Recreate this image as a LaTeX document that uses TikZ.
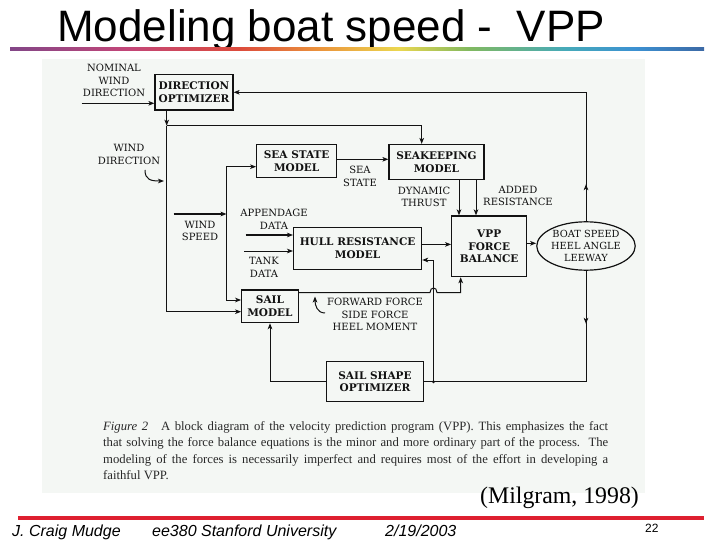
\documentclass[tikz,border=0pt]{standalone}
\usepackage{fontspec}
\setmainfont{Liberation Serif}
\newfontfamily\slidefont{Liberation Sans}
\newfontfamily\diafont{DejaVu Serif}
\usetikzlibrary{positioning, arrows.meta, calc, shapes.geometric, decorations.markings}
\definecolor{figbg}{RGB}{244,247,244}
\definecolor{ink}{RGB}{18,18,18}
\definecolor{captgray}{RGB}{40,40,40}
\definecolor{footred}{RGB}{222,32,48}
\definecolor{rbA}{RGB}{130,70,135}
\definecolor{rbB}{RGB}{195,70,120}
\definecolor{rbC}{RGB}{220,75,60}
\definecolor{rbD}{RGB}{235,150,60}
\definecolor{rbE}{RGB}{235,215,80}
\definecolor{rbF}{RGB}{130,185,95}
\definecolor{rbG}{RGB}{70,170,185}
\definecolor{rbH}{RGB}{60,145,210}
\definecolor{rbI}{RGB}{60,105,165}
\pgfdeclarehorizontalshading{rainbow}{100bp}{color(0bp)=(rbA); color(25bp)=(rbA);
  color(33.5bp)=(rbB); color(41.5bp)=(rbC); color(47.5bp)=(rbD); color(53bp)=(rbE);
  color(58bp)=(rbF); color(65bp)=(rbG); color(70bp)=(rbH); color(75bp)=(rbI); color(100bp)=(rbI)}
\tikzset{
>={Stealth[length=6pt, width=4.6pt, inset=1.6pt]}, % arrow heads of the connectors
block/.style={draw=ink, line width=1.2pt, fill=figbg, inner sep=0pt, align=center, text=ink,
  font=\diafont\bfseries\fontsize{10.5}{12.8}\selectfont}, % boxes of the diagram
lbl/.style={align=center, inner sep=0pt, text=ink, font=\diafont\fontsize{10}{12.6}\selectfont}, % signal names
wire/.style={draw=ink, line width=1pt}, % plain connectors
fatwire/.style={draw=ink, line width=1.8pt}, % external inputs
marrow/.style={postaction={decorate}, decoration={markings, mark=at position #1 with {\arrow{>}}}}, % arrow on the way
}
\begin{document}
\begin{tikzpicture}[x=1pt, y=-1pt]
\useasboundingbox (0,0) rectangle (720,540);
% slide frame
\node[anchor=base west, inner sep=0pt, font=\slidefont\fontsize{44}{44}\selectfont] (title) at (57,42) {Modeling boat speed -\ \ VPP};
\shade[shading=rainbow] (10,47.5) rectangle (704,50.5);
\fill[figbg] (42,59) rectangle (645,493);

% blocks
\node[block, minimum width=78pt, minimum height=35.5pt] (DO) at (194,92.3) {DIRECTION\\OPTIMIZER};
\node[block, minimum width=80pt, minimum height=33pt] (SSM) at (296.7,161) {SEA STATE\\MODEL};
\node[block, minimum width=95pt, minimum height=35pt] (SKM) at (436.5,162) {SEAKEEPING\\MODEL};
\node[block, minimum width=128pt, minimum height=42pt] (HRM) at (357.6,248.4) {HULL RESISTANCE\\MODEL};
\node[block, minimum width=75pt, minimum height=60.7pt] (VPP) at (489.2,246.3) {VPP\\FORCE\\BALANCE};
\node[block, ellipse, font=\diafont\fontsize{9.8}{12}\selectfont, minimum width=93.4pt, minimum height=48.4pt] (boat) at (586,246) {BOAT SPEED\\HEEL ANGLE\\LEEWAY};
\node[block, minimum width=56.6pt, minimum height=32.7pt] (SAIL) at (270,306.3) {SAIL\\MODEL};
\node[block, minimum width=96.6pt, minimum height=40pt] (SSO) at (375,381.7) {SAIL SHAPE\\OPTIMIZER};

% signal names
\node[lbl] (nominal) at (114,80.5) {NOMINAL\\WIND\\DIRECTION};
\node[lbl] (winddir) at (129,154.5) {WIND\\DIRECTION};
\node[lbl] (seastate) at (360,176.5) {SEA\\STATE};
\node[lbl] (dynthrust) at (424,197) {DYNAMIC\\THRUST};
\node[lbl] (addres) at (518,196) {ADDED\\RESISTANCE};
\node[lbl] (windspeed) at (200,231) {WIND\\SPEED};
\node[lbl] (appendage) at (274,219) {APPENDAGE\\DATA};
\node[lbl] (tank) at (264,267.5) {TANK\\DATA};
\node[lbl] (forces) at (375,314.5) {FORWARD FORCE\\SIDE FORCE\\HEEL MOMENT};

% turning points and free ends
\coordinate (nomin) at (81.7,103.3);
\coordinate (wdsplit) at (166.7,125.7);
\coordinate (skx) at (421.7,130);
\coordinate (wsin) at (173.5,214);
\coordinate (wsjoin) at (226.5,214);
\coordinate (ssout) at ($(SSM.east)+(0,-1.7)$);
\coordinate (appin) at (245.7,235);
\coordinate (tankin) at (244,251);
\coordinate (dt) at (459,200);
\coordinate (ar) at (476,200);
\coordinate (hrout) at ($(HRM.east)+(0,-4)$);
\coordinate (vppout) at ($(VPP.east)+(0,-3)$);
\coordinate (sailout) at (298.3,292.5);
\coordinate (hopA) at (430,292.5);
\coordinate (hopB) at (437,292.5);
\coordinate (vppin) at (460.7,292.5);
\coordinate (jct) at (433.5,381.7);
\coordinate (wdhook) at (145,170);
\coordinate (wdhookend) at (164,181);
\coordinate (fhook) at (325,313);
\coordinate (fhookend) at (315,296.5);

% connectors
\draw[wire, ->] (nomin) -- (nomin -| DO.west);
\draw[wire, ->, marrow=37pt] (boat.north) |- (DO.east);
\draw[wire, ->] (DO.south -| wdsplit) -- (wdsplit);
\draw[wire, ->] (wdsplit) -| (SKM.north -| skx);
\draw[wire, ->] (wdsplit) |- ($(SAIL.west)+(0,5.4)$);
\draw[wire, ->] (wdhook) .. controls (145,180) and (151,181) .. (wdhookend);
\draw[fatwire, ->] (wsin) -- (wsjoin);
\draw[wire, ->] (wsjoin) |- ($(SSM.west)+(0,5.7)$);
\draw[wire, ->] (wsjoin) |- ($(SAIL.west)+(0,-6.3)$);
\draw[wire, ->] (ssout) -- (ssout -| SKM.west);
\draw[wire, ->] (SKM.south -| dt) -- (VPP.north -| dt);
\draw[wire, ->] (SKM.south -| ar) -- (VPP.north -| ar);
\draw[fatwire, ->] (appin) -- (appin -| HRM.west);
\draw[wire, ->] (tankin) -- (tankin -| HRM.west);
\draw[wire, ->] (hrout) -- (hrout -| VPP.west);
\draw[wire, ->] (vppout) -- (vppout -| boat.west);
\draw[wire, ->] (sailout) -- (hopA) .. controls (430,286.5) and (437,286.5) .. (hopB) -- (vppin) -- (vppin |- VPP.south);
\draw[wire, marrow=53pt] (boat.south) |- (SSO.east);
\fill[ink] (jct) circle (1.6);
\draw[wire, ->] (jct) |- ($(HRM.east)+(0,11.6)$);
\draw[wire, ->] (SSO.west) -| (SAIL.south);
\draw[wire, ->] (fhook) .. controls (317,313) and (315,305) .. (fhookend);

% caption and source
\node[anchor=north west, text width=505pt, align=justify, inner sep=0pt, text=captgray,
  font=\fontsize{12.7}{16.2}\selectfont] (caption) at (103,421.5)
  {\textit{Figure 2}\quad A block diagram of the velocity prediction program (VPP). This emphasizes the fact\linebreak
   that solving the force balance equations is the minor and more ordinary part of the process.\ \ The\linebreak
   modeling of the forces is necessarily imperfect and requires most of the effort in developing a\linebreak
   faithful VPP.};
\node[anchor=base west, inner sep=0pt, font=\fontsize{23.8}{23.8}\selectfont] (source) at (480,503) {(Milgram, 1998)};

% footer
\fill[footred] (18,515.5) rectangle (704,519.5);
\node[anchor=base west, inner sep=0pt, font=\slidefont\itshape\fontsize{16}{16}\selectfont] (author) at (12,536) {J. Craig Mudge};
\node[anchor=base west, inner sep=0pt, font=\slidefont\itshape\fontsize{16}{16}\selectfont] (course) at (152,536) {ee380 Stanford University};
\node[anchor=base west, inner sep=0pt, font=\slidefont\itshape\fontsize{16}{16}\selectfont] (date) at (385,536) {2/19/2003};
\node[anchor=base west, inner sep=0pt, font=\slidefont\fontsize{12}{12}\selectfont] (pagenum) at (645,532) {22};
\end{tikzpicture}
\end{document}
